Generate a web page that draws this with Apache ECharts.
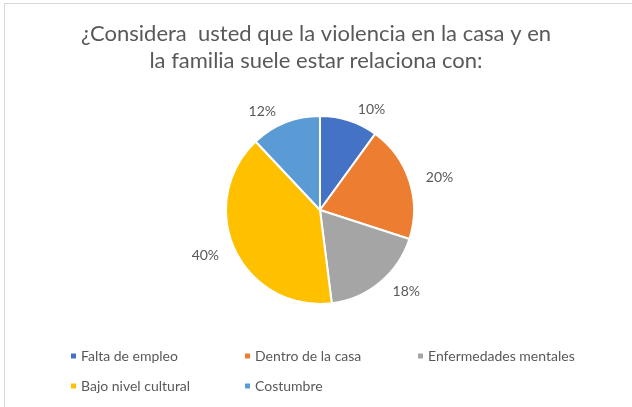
<!DOCTYPE html>
<html>
<head>
<meta charset="utf-8">
<script src="https://cdn.jsdelivr.net/npm/echarts@6/dist/echarts.min.js"></script>
<style>
  html, body { margin: 0; padding: 0; background: #fff; }
  #chart { width: 632px; height: 407px; }
</style>
</head>
<body>
<div id="chart"></div>
<script>
var categories = ["Falta de empleo", "Dentro de la casa", "Enfermedades mentales", "Bajo nivel cultural", "Costumbre"];
var values = [10, 20, 18, 40, 12];
var colors = ["#4472C4", "#ED7D31", "#A5A5A5", "#FFC000", "#5B9BD5"];

var chart = echarts.init(document.getElementById("chart"));
var font = "Lato, 'Liberation Sans', sans-serif";

var pieData = [];
categories.forEach(function (name, i) {
  pieData.push({ name: name, value: values[i], itemStyle: { color: colors[i] } });
});

// Excel-style legend: fixed columns, two rows
var legendSpots = [[64, 344], [238, 344], [411, 344], [64, 374], [238, 374]];
var legends = [];
categories.forEach(function (name, i) {
  legends.push({
    left: legendSpots[i][0],
    top: legendSpots[i][1],
    itemWidth: 7,
    itemHeight: 7,
    itemGap: 5,
    icon: "rect",
    data: [name],
    textStyle: { color: "#595959", fontSize: 14, fontFamily: font, padding: [0, 0, 0, -1] }
  });
});

var option = {
  animation: false,
  color: colors,
  title: {
    text: "¿Considera  usted que la violencia en la casa y en\nla familia suele estar relaciona con:",
    left: "center",
    top: 15,
    textStyle: { color: "#595959", fontSize: 22, fontWeight: "normal", fontFamily: font, lineHeight: 27 }
  },
  legend: legends,
  graphic: [
    { type: "line", shape: { x1: 4.5, y1: 4, x2: 4.5, y2: 407 }, style: { stroke: "#d9d9d9", lineWidth: 1 } },
    { type: "line", shape: { x1: 4, y1: 3.5, x2: 632, y2: 3.5 }, style: { stroke: "#d9d9d9", lineWidth: 1 } }
  ],
  series: [
    {
      type: "pie",
      center: [320, 210],
      radius: 94,
      startAngle: 90,
      clockwise: true,
      data: pieData,
      itemStyle: { borderColor: "#fff", borderWidth: 2 },
      label: {
        show: true,
        position: "outside",
        formatter: "{c}%",
        color: "#595959",
        fontSize: 14,
        fontFamily: font
      },
      labelLine: { show: false, length: 12, length2: 0 }
    }
  ]
};
chart.setOption(option);
</script>
</body>
</html>
